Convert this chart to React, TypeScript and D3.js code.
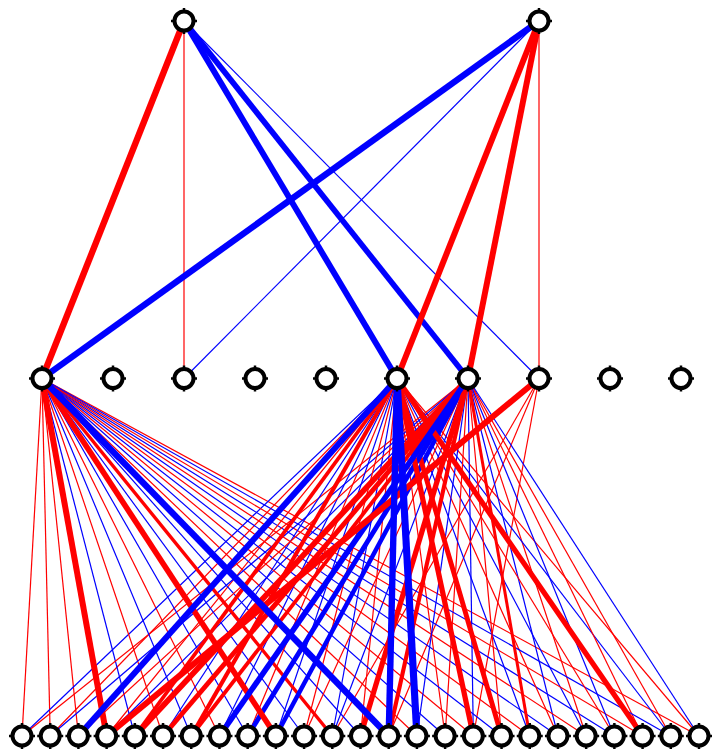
import React from "react";
import * as d3 from "d3";

// layer sizes
const topNodes = [2, 7]; // top units sit above these hidden slots
const midCount = 10;
const bottomCount = 25;

// weights from the two top units to the 10 middle units (0 = no link)
const topWeights0 = [0.85, 0, 0.04, 0, 0, -0.8, -0.75, -0.04, 0, 0];
const topWeights1 = [-0.85, 0, -0.04, 0, 0, 0.8, 0.8, 0.04, 0, 0];

// weights from middle units to the 25 bottom units
const mid0Weights = [0.05, 0.03, 0.06, 0.8, -0.06, 0.07, -0.1, 0.06, -0.08, 0.75, -0.1, 0.45, -0.07,
   -0.85, 0.06, -0.1, 0.07, -0.08, 0.06, -0.07, 0.08, -0.06, 0.07, -0.08, 0.06];
const mid5Weights = [-0.06, 0.05, -0.8, 0.06, 0.5, -0.07, 0.55, -0.08, 0.07, -0.1, 0.08, -0.07, 0.06,
   -0.85, -0.95, 0.07, 0.7, 0.65, -0.08, 0.07, -0.06, 0.08, 0.7, -0.07, 0.06];
const mid6Weights = [0.06, -0.07, 0.08, -0.06, 0.75, 0.65, 0.5, -0.75, -0.65, -0.6, 0.08, -0.07, 0.7,
   0.55, -0.08, 0.07, -0.06, 0.08, 0.4, -0.07, 0.06, -0.08, 0.07, 0.06, -0.07];
const mid7Weights = [0, 0, 0, 0.8, 0, 0, 0, 0, 0, 0, 0, 0.04, 0, 0.05, 0, 0, 0.05, 0, 0, 0, 0, 0, 0, 0, 0];

const midWeights: { [k: number]: number[] } = { 0: mid0Weights, 5: mid5Weights, 6: mid6Weights, 7: mid7Weights };

const width = 714;
const height = 753;

type Edge = { x1: number; y1: number; x2: number; y2: number; w: number };

const App = () => {
   const y = d3.scalePoint<string>().domain(["top", "mid", "bottom"]).range([21, 736]);
   const xMid = d3.scalePoint<number>().domain(d3.range(midCount)).range([42, 681]);
   const xBottom = d3.scalePoint<number>().domain(d3.range(bottomCount)).range([22, 699]);
   const strokeW = d3.scaleLinear().domain([0, 1]).range([0, 7.5]);

   const edges: Edge[] = [];
   [topWeights0, topWeights1].forEach((row, t) => {
      row.forEach((w, m) => {
         if (w === 0) return;
         edges.push({ x1: xMid(topNodes[t])!, y1: y("top")!, x2: xMid(m)!, y2: y("mid")!, w });
      });
   });
   Object.keys(midWeights).forEach((k) => {
      const m = +k;
      midWeights[m].forEach((w, b) => {
         if (w === 0) return;
         edges.push({ x1: xMid(m)!, y1: y("mid")!, x2: xBottom(b)!, y2: y("bottom")!, w });
      });
   });
   edges.sort((a, b) => Math.abs(a.w) - Math.abs(b.w));

   const nodes: { x: number; y: number }[] = [
      ...topNodes.map((m) => ({ x: xMid(m)!, y: y("top")! })),
      ...d3.range(midCount).map((m) => ({ x: xMid(m)!, y: y("mid")! })),
      ...d3.range(bottomCount).map((b) => ({ x: xBottom(b)!, y: y("bottom")! })),
   ];

   const r = 9.5;

   return (
      <svg width={width} height={height} style={{ position: "absolute", left: 0, top: 0, background: "white" }}>
         <g>
            {edges.map((e, i) => (
               <line
                  key={i}
                  x1={e.x1}
                  y1={e.y1}
                  x2={e.x2}
                  y2={e.y2}
                  stroke={e.w > 0 ? "#ff0000" : "#0000ff"}
                  strokeWidth={Math.max(1.2, strokeW(Math.abs(e.w)))}
               />
            ))}
         </g>
         <g>
            {nodes.map((n, i) => (
               <g key={i} transform={`translate(${n.x},${n.y})`}>
                  <circle r={r} fill="white" stroke="black" strokeWidth={4} />
                  {[0, 90, 180, 270].map((a) => (
                     <line key={a} x1={0} y1={-r - 1} x2={0} y2={-r - 3.5} stroke="black" strokeWidth={2.5} transform={`rotate(${a})`} />
                  ))}
               </g>
            ))}
         </g>
      </svg>
   );
};

export default App;
